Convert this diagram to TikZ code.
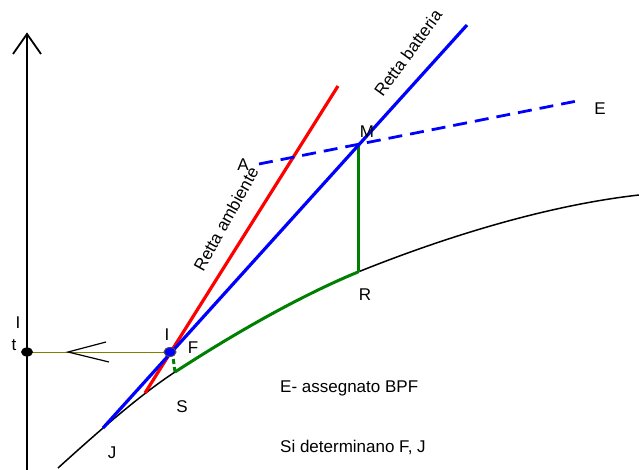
\documentclass[tikz,border=0pt]{standalone}
\usepackage{fontspec}
\setmainfont{Liberation Sans}
\usetikzlibrary{arrows,positioning,calc}
\definecolor{rettared}{RGB}{255, 0, 0}
\definecolor{rettablue}{RGB}{0, 0, 255}
\definecolor{rettagreen}{RGB}{0, 128, 0}
\definecolor{rettaolive}{RGB}{128, 128, 0}

\tikzset{
  lbl/.style={font=\fontsize{17}{19}\selectfont, inner sep=0pt},
  chevron/.style={line width=1.2pt, black}
}

\begin{document}
\begin{tikzpicture}[x=1pt, y=-1pt]
    \useasboundingbox (0,0) rectangle (639,470);
    % Points of the chart
    \coordinate (axisbot) at (27,470);
    \coordinate (axistop) at (27,34);
    \coordinate (It) at (27,352);
    \coordinate (I) at (170,352);
    \coordinate (S) at (175,372);
    \coordinate (M) at (358,144);
    \coordinate (R) at (358,272);
    \coordinate (curvebot) at (58,468);
    \coordinate (curvetop) at (639,195);
    \coordinate (redbot) at (145,393);
    \coordinate (redtop) at (338,86);
    \coordinate (bluebot) at (103,428);
    \coordinate (bluetop) at (467,25);
    \coordinate (dashA) at (259,164);
    \coordinate (dashE) at (582,100);

    % Axis with open arrow
    \draw[line width=2.2pt] (axisbot) -- (axistop);
    \draw[line width=1.8pt] ($(axistop)+(-14,20)$) -- (axistop) -- ($(axistop)+(14,20)$);

    % Saturation curve
    \draw[line width=1.5pt] (curvebot) .. controls (100,430) and (140,395) .. (S)
        .. controls (235,333) and (300,296) .. (R)
        .. controls (450,235) and (550,205) .. (curvetop);

    % Green process path
    \draw[rettagreen, line width=3pt] (S) .. controls (235,333) and (300,296) .. (R);
    \draw[rettagreen, line width=3pt] (R) -- (M);
    \draw[rettagreen, line width=3pt, dash pattern=on 5pt off 3pt] (S) -- ($(I)+(3,5)$);

    % Retta ambiente and retta batteria
    \draw[rettared, line width=3.2pt] (redbot) -- (redtop);
    \draw[rettablue, line width=3.2pt] (bluebot) -- (bluetop);
    \draw[rettablue, line width=2.8pt, dash pattern=on 14pt off 8pt] (dashA) -- (dashE);

    % Horizontal projection on the axis
    \draw[rettaolive, line width=1pt] (It) -- (I);
    \draw[chevron] (106,342) -- (68,352) -- (109,362);
    \fill[black] (It) ellipse (6pt and 4.5pt);
    \filldraw[fill=rettablue, draw=black!70, line width=1pt] (I) ellipse (6pt and 4.5pt);

    % Labels
    \node[lbl] (labIt1) at (18,323) {I};
    \node[lbl] (labIt2) at (14,345) {t};
    \node[lbl] (labI) at (167,335) {I};
    \node[lbl] (labF) at (193,348) {F};
    \node[lbl] (labS) at (182,407) {S};
    \node[lbl] (labJ) at (112,453) {J};
    \node[lbl] (labA) at (243,165) {A};
    \node[lbl] (labM) at (367,132) {M};
    \node[lbl] (labE) at (600,109) {E};
    \node[lbl] (labR) at (365,295) {R};
    \node[lbl, rotate=61] (ambiente) at (226,219) {Retta ambiente};
    \node[lbl, rotate=54] (batteria) at (408,53) {Retta batteria};
    \node[lbl, anchor=west] (note1) at (280,388) {E- assegnato BPF};
    \node[lbl, anchor=west] (note2) at (280,447) {Si determinano F, J};
\end{tikzpicture}
\end{document}
